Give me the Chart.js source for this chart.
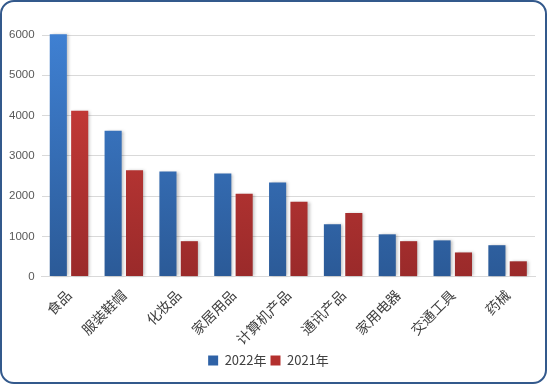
<!DOCTYPE html>
<html>
<head>
<meta charset="utf-8">
<script src="https://cdn.jsdelivr.net/npm/chart.js@4.4.1/dist/chart.umd.min.js"></script>
<style>
  html, body { margin: 0; padding: 0; background: #fff; }
  #frame {
    position: absolute; left: 0; top: 0; width: 547px; height: 384px;
    box-sizing: border-box; border: 2px solid #33598c; border-radius: 14px;
    background: #fff; overflow: hidden;
  }
  #wrap { position: absolute; left: 0; top: 0; width: 543px; height: 380px; }
</style>
</head>
<body>
<div id="frame"><div id="wrap"><canvas id="c"></canvas></div></div>
<script>
'use strict';
// data
var categories = ['食品', '服装鞋帽', '化妆品', '家居用品', '计算机产品', '通讯产品', '家用电器', '交通工具', '药械'];
var seriesNames = ['2022年', '2021年'];
var values2022 = [6020, 3620, 2610, 2560, 2340, 1300, 1050, 900, 780];
var values2021 = [4120, 2640, 880, 2060, 1860, 1580, 880, 600, 380];
var yTicks = [0, 1000, 2000, 3000, 4000, 5000, 6000];

var FONT_NUM = "'Liberation Sans', 'DejaVu Sans', sans-serif";
var FONT_CJK = "'Noto Sans CJK SC', sans-serif";

function grad(top, bottom) {
  return function(c) {
    var ca = c.chart.chartArea;
    if (!ca) return top;
    var g = c.chart.ctx.createLinearGradient(0, ca.top, 0, ca.bottom);
    g.addColorStop(0, top);
    g.addColorStop(1, bottom);
    return g;
  };
}

var shadow = {
  id: 'shadow',
  beforeDatasetsDraw: function(chart) {
    var ctx = chart.ctx; ctx.save();
    ctx.shadowColor = 'rgba(0,0,0,0.25)'; ctx.shadowBlur = 3; ctx.shadowOffsetX = 2; ctx.shadowOffsetY = 0;
  },
  afterDatasetsDraw: function(chart) { chart.ctx.restore(); }
};

new Chart(document.getElementById('c'), {
  type: 'bar',
  data: {
    labels: categories,
    datasets: [
      {label: seriesNames[0], data: values2022, backgroundColor: grad('#3f80d2', '#2b5a97'), clip: false},
      {label: seriesNames[1], data: values2021, backgroundColor: grad('#d23f3b', '#9a2a2a'), clip: false}
    ]
  },
  plugins: [shadow],
  options: {
    responsive: true, maintainAspectRatio: false, animation: false,
    layout: {padding: {left: 0, right: 10, top: 33, bottom: 5}},
    categoryPercentage: 0.78, barPercentage: 0.8,
    plugins: {
      legend: {
        position: 'bottom',
        labels: {
          color: '#404040', boxWidth: 10, boxHeight: 10, padding: 4,
          font: {family: FONT_CJK, size: 13},
          generateLabels: function(chart) {
            var cols = ['#2f62a6', '#b4302e'];
            return chart.data.datasets.map(function(d, i) {
              return {text: d.label, fillStyle: cols[i], strokeStyle: cols[i], lineWidth: 0, datasetIndex: i, fontColor: '#404040'};
            });
          }
        }
      },
      tooltip: {enabled: false}
    },
    scales: {
      x: {
        grid: {display: false},
        border: {color: '#d9d9d9'},
        ticks: {color: '#404040', maxRotation: 45, minRotation: 45, padding: 2, font: {family: FONT_CJK, size: 14}}
      },
      y: {
        min: 0, max: 6000,
        afterBuildTicks: function(s) { s.ticks = yTicks.map(function(v) { return {value: v}; }); },
        grid: {color: '#d9d9d9', drawTicks: false},
        border: {display: false},
        ticks: {color: '#595959', padding: 7, font: {family: FONT_NUM, size: 11.5},
          callback: function(v) { return String(v); }}
      }
    }
  }
});
</script>
</body>
</html>
